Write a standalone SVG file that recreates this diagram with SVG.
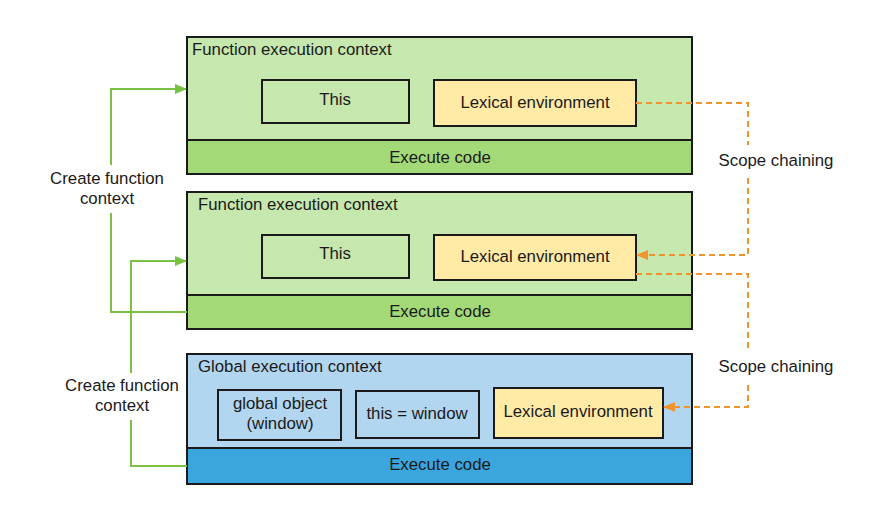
<svg xmlns="http://www.w3.org/2000/svg" width="880" height="522" viewBox="0 0 880 522">
<defs>
<style>
text{font-family:"Liberation Sans",Arial,sans-serif;font-size:16.8px;fill:#1a1a1a}
.c{text-anchor:middle}
.box{stroke:#1a1a1a;stroke-width:2}
.fh{fill:#c6e7ae}
.fe{fill:#a3d977}
.gh{fill:#b2d6ef}
.ge{fill:#3aa6dd}
.lex{fill:#ffeaa6}
.g{fill:none;stroke:#7ac143;stroke-width:2}
.o{fill:none;stroke:#f0952e;stroke-width:2;stroke-dasharray:6,4}
</style>
<marker id="ag" markerWidth="12" markerHeight="10" refX="11" refY="5" orient="auto" markerUnits="userSpaceOnUse"><path d="M0,0 L12,5 L0,10 Z" fill="#7ac143"/></marker>
<marker id="ao" markerWidth="12" markerHeight="10" refX="11" refY="5" orient="auto" markerUnits="userSpaceOnUse"><path d="M0,0 L12,5 L0,10 Z" fill="#f0952e"/></marker>
</defs>
<rect width="880" height="522" fill="#fff"/>
<g id="ctx1">
<rect class="box fh" x="187" y="37" width="505" height="103"/>
<rect class="box fe" x="187" y="140" width="505" height="34"/>
<text x="192" y="55">Function execution context</text>
<text class="c" x="440" y="163">Execute code</text>
<g id="this1"><rect class="box fh" x="262" y="80" width="147" height="43"/><text class="c" x="335" y="105">This</text></g>
<g id="lex1"><rect class="box lex" x="434" y="80" width="202" height="46"/><text class="c" x="535" y="108">Lexical environment</text></g>
</g>
<g id="ctx2">
<rect class="box fh" x="187" y="192" width="505" height="103"/>
<rect class="box fe" x="187" y="295" width="505" height="34"/>
<text x="198" y="210">Function execution context</text>
<text class="c" x="440" y="317">Execute code</text>
<g id="this2"><rect class="box fh" x="262" y="235" width="147" height="43"/><text class="c" x="335" y="259">This</text></g>
<g id="lex2"><rect class="box lex" x="434" y="235" width="202" height="45"/><text class="c" x="535" y="262">Lexical environment</text></g>
</g>
<g id="global">
<rect class="box gh" x="187" y="354" width="505" height="94"/>
<rect class="box ge" x="187" y="448" width="505" height="36"/>
<text x="198" y="372">Global execution context</text>
<text class="c" x="440" y="470">Execute code</text>
<g id="globalobj"><rect class="box gh" x="218" y="390" width="123" height="50"/><text class="c" x="280" y="409">global object</text><text class="c" x="280" y="429">(window)</text></g>
<g id="thiswin"><rect class="box gh" x="356" y="391" width="123" height="47"/><text class="c" x="417" y="419">this = window</text></g>
<g id="lex3"><rect class="box lex" x="494" y="388" width="169" height="50"/><text class="c" x="578" y="417">Lexical environment</text></g>
</g>
<g id="connectors">
<path class="g" d="M187,312 H111 V213 M111,165 V89 H186" marker-end="url(#ag)"/>
<path class="g" d="M187,466 H131 V420 M131,373 V261 H186" marker-end="url(#ag)"/>
<path class="o" d="M636,103 H748 V145 M748,178 V255 H637" marker-end="url(#ao)"/>
<path class="o" d="M636,274 H748 V352 M748,385 V407 H664" marker-end="url(#ao)"/>
<text class="c" x="107" y="184">Create function</text>
<text class="c" x="107" y="204">context</text>
<text class="c" x="122" y="391">Create function</text>
<text class="c" x="122" y="411">context</text>
<text class="c" x="776" y="166">Scope chaining</text>
<text class="c" x="776" y="372">Scope chaining</text>
</g>
</svg>
